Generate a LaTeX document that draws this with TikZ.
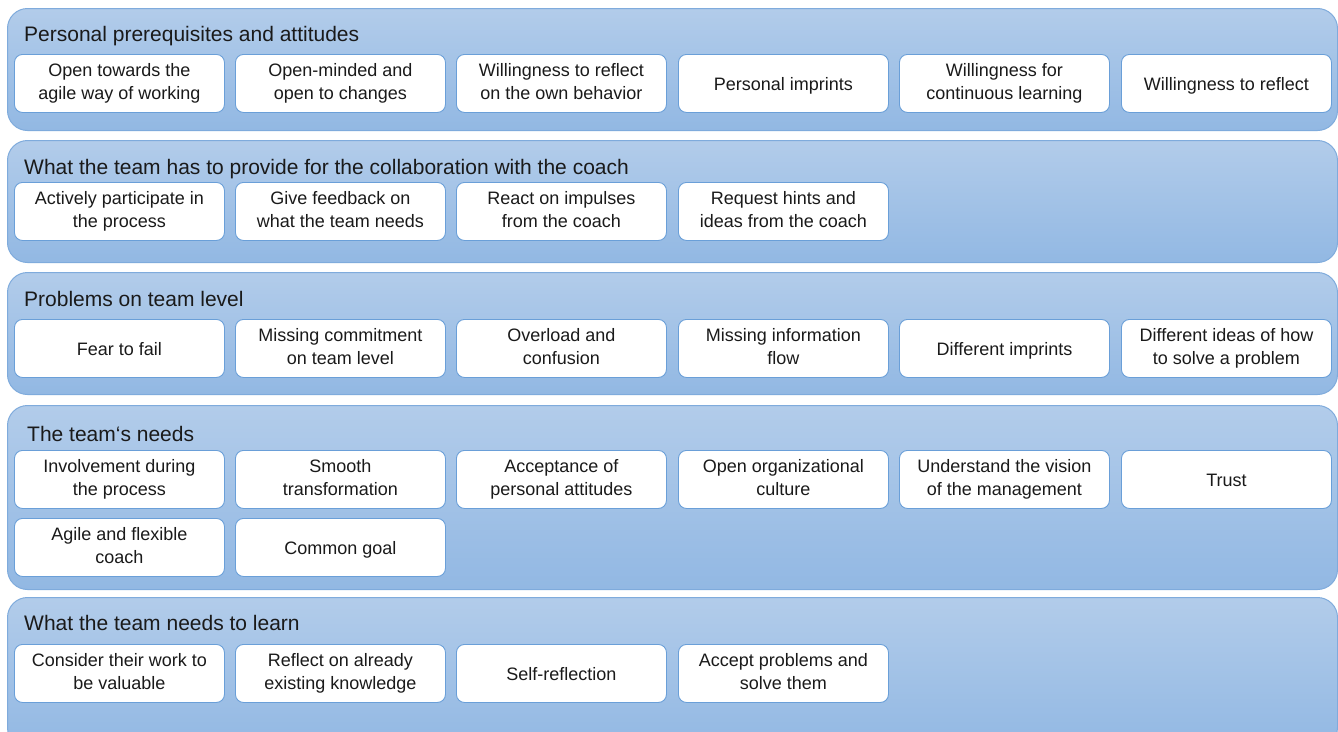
\documentclass[tikz,border=0pt]{standalone}
\usepackage{fontspec}
\setmainfont{Liberation Sans}
\definecolor{paneltop}{HTML}{B2CCEA}
\definecolor{panelbot}{HTML}{92B8E3}
\definecolor{panelline}{HTML}{7FABDC}
\definecolor{boxline}{HTML}{6A9FD8}
\definecolor{txt}{HTML}{1A1A1A}
\newcommand{\boxstrut}{\rule[-4pt]{0pt}{22.5pt}}
\tikzset{
  panel/.style={anchor=north west, rounded corners=20pt, top color=paneltop, bottom color=panelbot, draw=panelline, line width=1pt, minimum width=1330pt, inner sep=0pt},
  box/.style={anchor=north west, rounded corners=8pt, fill=white, draw=boxline, line width=0.9pt, minimum width=210pt, minimum height=58pt, inner sep=0pt, align=center, text=txt, font=\fontsize{18}{22.5}\selectfont,
    execute at begin node=\boxstrut, execute at end node=\boxstrut},
  ptitle/.style={anchor=base west, inner sep=0pt, text=txt, font=\fontsize{21}{25}\selectfont}
}
\begin{document}
\begin{tikzpicture}[x=1pt,y=-1pt]
\useasboundingbox (0,0) rectangle (1338,731);
\clip (0,0) rectangle (1338,731);
\fill[white] (0,0) rectangle (1338,731);
% panels
\node[panel, minimum height=122pt] (p1) at (7,8) {};
\node[panel, minimum height=122pt] (p2) at (7,140) {};
\node[panel, minimum height=122pt] (p3) at (7,272) {};
\node[panel, minimum height=184pt] (p4) at (7,405) {};
\node[panel, minimum height=150pt] (p5) at (7,597) {};
% titles
\node[ptitle] (t1) at (24,41) {Personal prerequisites and attitudes};
\node[ptitle] (t2) at (24,174) {What the team has to provide for the collaboration with the coach};
\node[ptitle] (t3) at (24,306) {Problems on team level};
\node[ptitle] (t4) at (27,441) {The team‘s needs};
\node[ptitle] (t5) at (24,630) {What the team needs to learn};
% row 1
\node[box] (a1) at (14,54) {Open towards the\\agile way of working};
\node[box] (a2) at (235,54) {Open-minded and\\open to changes};
\node[box] (a3) at (456,54) {Willingness to reflect\\on the own behavior};
\node[box] (a4) at (678,54) {Personal imprints};
\node[box] (a5) at (899,54) {Willingness for\\continuous learning};
\node[box] (a6) at (1121,54) {Willingness to reflect};
% row 2
\node[box] (b1) at (14,182) {Actively participate in\\the process};
\node[box] (b2) at (235,182) {Give feedback on\\what the team needs};
\node[box] (b3) at (456,182) {React on impulses\\from the coach};
\node[box] (b4) at (678,182) {Request hints and\\ideas from the coach};
% row 3
\node[box] (c1) at (14,319) {Fear to fail};
\node[box] (c2) at (235,319) {Missing commitment\\on team level};
\node[box] (c3) at (456,319) {Overload and\\confusion};
\node[box] (c4) at (678,319) {Missing information\\flow};
\node[box] (c5) at (899,319) {Different imprints};
\node[box] (c6) at (1121,319) {Different ideas of how\\to solve a problem};
% row 4
\node[box] (d1) at (14,450) {Involvement during\\the process};
\node[box] (d2) at (235,450) {Smooth\\transformation};
\node[box] (d3) at (456,450) {Acceptance of\\personal attitudes};
\node[box] (d4) at (678,450) {Open organizational\\culture};
\node[box] (d5) at (899,450) {Understand the vision\\of the management};
\node[box] (d6) at (1121,450) {Trust};
\node[box] (d7) at (14,518) {Agile and flexible\\coach};
\node[box] (d8) at (235,518) {Common goal};
% row 5
\node[box] (e1) at (14,644) {Consider their work to\\be valuable};
\node[box] (e2) at (235,644) {Reflect on already\\existing knowledge};
\node[box] (e3) at (456,644) {Self-reflection};
\node[box] (e4) at (678,644) {Accept problems and\\solve them};
\end{tikzpicture}
\end{document}
